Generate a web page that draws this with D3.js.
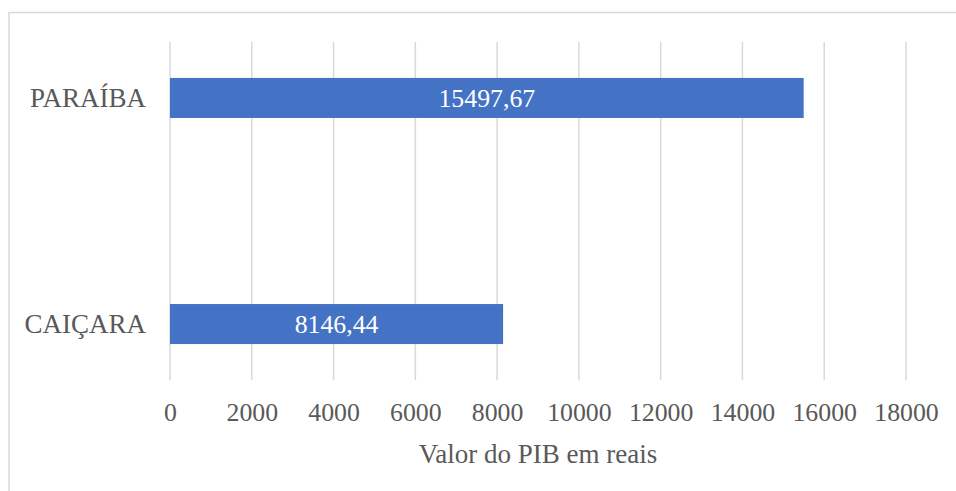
<!DOCTYPE html>
<html>
<head>
<meta charset="utf-8">
<script src="https://cdn.jsdelivr.net/npm/d3@7"></script>
<style>
  html, body { margin: 0; padding: 0; background: #fff; }
  svg { display: block; }
  text { font-family: "Liberation Serif", "Times New Roman", serif; }
</style>
</head>
<body>
<svg id="chart" width="956" height="491"></svg>
<script>
const categories = ["PARAÍBA", "CAIÇARA"];
const values = [15497.67, 8146.44];
const valueLabels = ["15497,67", "8146,44"];
const tickValues = [0, 2000, 4000, 6000, 8000, 10000, 12000, 14000, 16000, 18000];
const axisTitle = "Valor do PIB em reais";

const svg = d3.select("#chart");
const W = 956, H = 491;
const plot = { left: 170, right: 906, top: 42, bottom: 380 };
const textColor = "#595959";
const gridColor = "#d9d9d9";
const barColor = "#4472C4";
const numSize = 25.8;
const txtSize = 27;
const serif = '"Liberation Serif", "Times New Roman", serif';

// outer border
svg.append("rect")
  .attr("x", 9).attr("y", 12.5)
  .attr("width", W).attr("height", H)
  .attr("fill", "none").attr("stroke", gridColor).attr("stroke-width", 1.5);

const x = d3.scaleLinear().domain([0, 18000]).range([plot.left, plot.right]);
const y = d3.scaleBand().domain(categories).range([plot.top, plot.bottom])
  .paddingInner(0.823).paddingOuter(0.159);

// gridlines
svg.append("g").selectAll("line").data(tickValues).join("line")
  .attr("x1", d => x(d)).attr("x2", d => x(d))
  .attr("y1", plot.top).attr("y2", plot.bottom)
  .attr("stroke", gridColor).attr("stroke-width", 1.5);

// x axis labels
const xAxis = d3.axisBottom(x).tickValues(tickValues).tickSize(0).tickPadding(0).tickFormat(d3.format("d"));
const gx = svg.append("g").attr("transform", `translate(0, ${plot.bottom})`).call(xAxis);
gx.attr("font-family", serif);
gx.select(".domain").remove();
gx.selectAll("text")
  .attr("y", 41).attr("dy", null)
  .attr("fill", textColor)
  .style("font-size", numSize + "px")
  .style("font-family", serif);

// y axis labels
const yAxis = d3.axisLeft(y).tickSize(0).tickPadding(24);
const gy = svg.append("g").attr("transform", `translate(${plot.left}, 0)`).call(yAxis);
gy.attr("font-family", serif);
gy.select(".domain").remove();
gy.selectAll("text")
  .attr("dy", "0.34em")
  .attr("fill", textColor)
  .style("font-size", txtSize + "px")
  .style("font-family", serif);

// bars
svg.append("g").selectAll("rect").data(categories).join("rect")
  .attr("x", x(0))
  .attr("y", d => y(d))
  .attr("width", (d, i) => x(values[i]) - x(0))
  .attr("height", y.bandwidth())
  .attr("fill", barColor);

// value labels
svg.append("g").selectAll("text").data(categories).join("text")
  .attr("x", (d, i) => (x(0) + x(values[i])) / 2)
  .attr("y", d => y(d) + y.bandwidth() / 2)
  .attr("dy", "0.35em")
  .attr("text-anchor", "middle")
  .attr("fill", "#ffffff")
  .style("font-size", numSize + "px")
  .style("font-family", serif)
  .text((d, i) => valueLabels[i]);

// axis title
svg.append("text")
  .attr("x", (plot.left + plot.right) / 2)
  .attr("y", 462.5)
  .attr("text-anchor", "middle")
  .attr("fill", textColor)
  .style("font-size", txtSize + "px")
  .style("font-family", serif)
  .text(axisTitle);
</script>
</body>
</html>
